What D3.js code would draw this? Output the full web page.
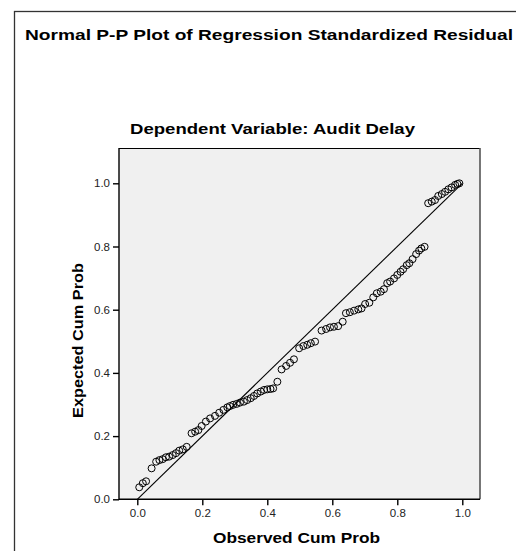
<!DOCTYPE html>
<html>
<head>
<meta charset="utf-8">
<script src="https://cdn.jsdelivr.net/npm/d3@7"></script>
<style>
  html, body { margin: 0; padding: 0; background: #fff; }
  svg { display: block; font-family: Arial, "Liberation Sans", sans-serif; }
</style>
</head>
<body>
<svg id="chart" width="516" height="551"></svg>
<script>
// ---- data ----
const chartTitle = "Normal P-P Plot of Regression Standardized Residual";
const subTitle = "Dependent Variable: Audit Delay";
const xLabel = "Observed Cum Prob";
const yLabel = "Expected Cum Prob";
const tickValues = [0.0, 0.2, 0.4, 0.6, 0.8, 1.0];

const observedCumProb = [
  0.006, 0.017, 0.027, 0.044, 0.058, 0.068, 0.078, 0.088, 0.098, 0.109,
  0.119, 0.129, 0.140, 0.152, 0.167, 0.178, 0.188, 0.198, 0.211, 0.224,
  0.239, 0.252, 0.265, 0.277, 0.285, 0.295, 0.306, 0.316, 0.328, 0.338,
  0.349, 0.359, 0.369, 0.380, 0.390, 0.400, 0.410, 0.418, 0.431, 0.444,
  0.458, 0.470, 0.482, 0.498, 0.511, 0.523, 0.534, 0.547, 0.567, 0.581,
  0.593, 0.605, 0.618, 0.632, 0.642, 0.654, 0.667, 0.680, 0.690, 0.701,
  0.714, 0.726, 0.737, 0.749, 0.759, 0.769, 0.778, 0.790, 0.800, 0.810,
  0.818, 0.829, 0.837, 0.847, 0.858, 0.867, 0.874, 0.884, 0.895, 0.906,
  0.916, 0.926, 0.937, 0.947, 0.957, 0.967, 0.978, 0.985, 0.991
];
const expectedCumProb = [
  0.038, 0.051, 0.057, 0.098, 0.119, 0.124, 0.127, 0.133, 0.135, 0.140,
  0.146, 0.154, 0.158, 0.166, 0.209, 0.214, 0.219, 0.232, 0.246, 0.256,
  0.264, 0.274, 0.283, 0.291, 0.295, 0.299, 0.302, 0.306, 0.309, 0.314,
  0.320, 0.327, 0.335, 0.341, 0.346, 0.348, 0.349, 0.351, 0.372, 0.411,
  0.422, 0.432, 0.443, 0.478, 0.485, 0.489, 0.494, 0.499, 0.534, 0.539,
  0.544, 0.546, 0.548, 0.562, 0.589, 0.592, 0.597, 0.601, 0.604, 0.618,
  0.622, 0.639, 0.652, 0.657, 0.665, 0.684, 0.689, 0.699, 0.710, 0.720,
  0.728, 0.741, 0.747, 0.760, 0.776, 0.787, 0.794, 0.799, 0.937, 0.942,
  0.947, 0.960, 0.966, 0.973, 0.981, 0.987, 0.995, 0.998, 1.000
];
const refLine = [[0, 0], [1, 1]];

// ---- layout ----
const svg = d3.select("#chart");
const plot = { left: 119, right: 480, top: 148, bottom: 499.3 };

const x = d3.scaleLinear().domain([-0.0563, 1.0545]).range([plot.left, plot.right]);
const y = d3.scaleLinear().domain([0, 1.1117]).range([plot.bottom, plot.top]);

// outer frame
svg.append("rect")
  .attr("x", 14.5).attr("y", 11.5).attr("width", 520).attr("height", 560)
  .attr("fill", "#fff").attr("stroke", "#333").attr("stroke-width", 1.3);

// titles (the reference text is horizontally stretched)
function boldText(sel, txt, len) {
  return sel.attr("font-size", "14px").attr("font-weight", "bold").attr("fill", "#000")
    .attr("textLength", len).attr("lengthAdjust", "spacingAndGlyphs").text(txt);
}
boldText(svg.append("text").attr("x", 25).attr("y", 40), chartTitle, 488);
boldText(svg.append("text").attr("x", 130).attr("y", 133.5), subTitle, 285);

// plot background
svg.append("rect")
  .attr("x", plot.left).attr("y", plot.top)
  .attr("width", plot.right - plot.left).attr("height", plot.bottom - plot.top)
  .attr("fill", "#f0f0f0").attr("stroke", "none");
// top and right borders
svg.append("path")
  .attr("d", `M${plot.left},${plot.top + 0.5}H${plot.right}`)
  .attr("stroke", "#000").attr("stroke-width", 1.2).attr("fill", "none");
svg.append("path")
  .attr("d", `M${plot.right},${plot.top}V${plot.bottom}`)
  .attr("stroke", "#555").attr("stroke-width", 1.6).attr("fill", "none");

// axes
const xAxis = d3.axisBottom(x).tickValues(tickValues).tickFormat(d3.format(".1f"))
  .tickSize(6).tickSizeOuter(0).tickPadding(4);
const yAxis = d3.axisLeft(y).tickValues(tickValues).tickFormat(d3.format(".1f"))
  .tickSize(6).tickSizeOuter(0).tickPadding(3);

const gx = svg.append("g").attr("transform", `translate(0,${plot.bottom})`).call(xAxis);
const gy = svg.append("g").attr("transform", `translate(${plot.left},0)`).call(yAxis);
[gx, gy].forEach(g => {
  g.select(".domain").remove();
  g.selectAll(".tick line").attr("stroke", "#000").attr("stroke-width", 1.4);
  g.selectAll(".tick text").attr("font-size", "11.5px").attr("fill", "#222")
    .attr("font-family", "Arial, 'Liberation Sans', sans-serif");
});
// axis lines (left and bottom)
svg.append("path")
  .attr("d", `M${plot.left},${plot.top}V${plot.bottom}H${plot.right}`)
  .attr("stroke", "#000").attr("stroke-width", 1.4).attr("fill", "none");

// axis titles
boldText(svg.append("text").attr("x", 213).attr("y", 543), xLabel, 167);
boldText(svg.append("text")
  .attr("transform", "translate(83,418) rotate(-90)"), yLabel, 155);

// reference line
svg.append("path")
  .datum(refLine)
  .attr("d", d3.line().x(d => x(d[0])).y(d => y(d[1])))
  .attr("stroke", "#000").attr("stroke-width", 1.1).attr("fill", "none");

// points
const pts = observedCumProb.map((v, i) => ({ o: v, e: expectedCumProb[i] }));
svg.append("g").selectAll("circle").data(pts).join("circle")
  .attr("cx", d => x(d.o)).attr("cy", d => y(d.e)).attr("r", 3.5)
  .attr("fill", "none").attr("stroke", "#000").attr("stroke-width", 1);
</script>
</body>
</html>
